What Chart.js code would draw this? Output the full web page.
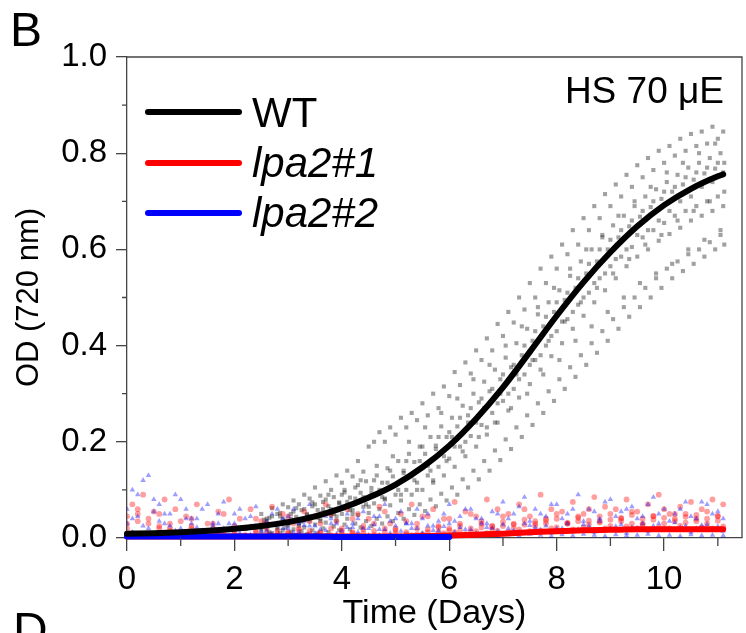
<!DOCTYPE html>
<html>
<head>
<meta charset="utf-8">
<script src="https://cdn.jsdelivr.net/npm/chart.js@4.4.1/dist/chart.umd.min.js"></script>
<style>
  body { margin: 0; background: #fff; }
  #wrap { position: relative; width: 746px; height: 633px; overflow: hidden; }
  #out { position: absolute; left: 0; top: 0; }
  .txt { position: absolute; font-family: "Liberation Sans", Arial, sans-serif; color: #000; line-height: 1; white-space: nowrap; }
  .panel { font-size: 48px; }
  .key { position: absolute; left: 145px; width: 97px; height: 6px; border-radius: 3px; }
</style>
</head>
<body>
<div id="wrap">
  <canvas id="out" width="746" height="633"></canvas>
  <div class="txt panel" style="left:10px;top:6px">B</div>
  <div class="txt panel" style="left:13px;top:606px">D</div>
  <div class="txt" style="right:22px;top:72px;font-size:37px">HS 70 μE</div>
  <div id="legend"></div>
</div>
<script>
// series names and colours
const seriesNames = ["WT", "lpa2#1", "lpa2#2"];
const seriesColors = ["#000000", "#ff0000", "#0000ff"];

// tick positions
const majorDays = [0, 2, 4, 6, 8, 10];
const minorDays = [1, 3, 5, 7, 9, 11];
const minorOD = [0.1, 0.3, 0.5, 0.7, 0.9];

// fitted growth curves
const fitDays = [0, 0.5, 1, 1.5, 2, 2.5, 3, 3.5, 4, 4.5, 5, 5.5, 6, 6.5, 7, 7.5, 8, 8.5, 9, 9.5, 10, 10.5, 11, 11.1];
const wtFit = [0.009, 0.01, 0.012, 0.015, 0.019, 0.025, 0.033, 0.045, 0.062, 0.084, 0.111, 0.147, 0.192, 0.248, 0.313, 0.387, 0.462, 0.532, 0.594, 0.648, 0.692, 0.726, 0.752, 0.756];
const lpa1Fit = [0.003, 0.003, 0.003, 0.003, 0.003, 0.003, 0.003, 0.003, 0.003, 0.003, 0.003, 0.004, 0.005, 0.007, 0.009, 0.012, 0.014, 0.016, 0.017, 0.018, 0.018, 0.018, 0.018, 0.018];
const lpa2FitDays = [0, 0.5, 1, 1.5, 2, 2.5, 3, 3.5, 4, 4.5, 5, 5.5, 6];
const lpa2Fit = [0.003, 0.003, 0.003, 0.003, 0.003, 0.003, 0.003, 0.003, 0.002, 0.002, 0.002, 0.002, 0.002];

// WT raw OD readings (6 cultures, two sampling schedules)
const wtDaysA = [2.5, 2.6, 2.7, 2.8, 2.9, 3.0, 3.1, 3.2, 3.3, 3.4,
  3.5, 3.6, 3.7, 3.8, 3.9, 4.0, 4.1, 4.2, 4.3, 4.4,
  4.5, 4.6, 4.7, 4.8, 4.9, 5.0, 5.1, 5.2, 5.3, 5.4,
  5.5, 5.6, 5.7, 5.8, 5.9, 6.0, 6.1, 6.2, 6.3, 6.4,
  6.5, 6.6, 6.7, 6.8, 6.9, 7.0, 7.1, 7.2, 7.3, 7.4,
  7.5, 7.6, 7.7, 7.8, 7.9, 8.0, 8.1, 8.2, 8.3, 8.4,
  8.5, 8.6, 8.7, 8.8, 8.9, 9.0, 9.1, 9.2, 9.3, 9.4,
  9.5, 9.6, 9.7, 9.8, 9.9, 10.0, 10.1, 10.2, 10.3, 10.4,
  10.5, 10.6, 10.7, 10.8, 10.9, 11.0, 11.1];
const wtDaysB = [2.55, 2.65, 2.75, 2.85, 2.95, 3.05, 3.15, 3.25, 3.35, 3.45,
  3.55, 3.65, 3.75, 3.85, 3.95, 4.05, 4.15, 4.25, 4.35, 4.45,
  4.55, 4.65, 4.75, 4.85, 4.95, 5.05, 5.15, 5.25, 5.35, 5.45,
  5.55, 5.65, 5.75, 5.85, 5.95, 6.05, 6.15, 6.25, 6.35, 6.45,
  6.55, 6.65, 6.75, 6.85, 6.95, 7.05, 7.15, 7.25, 7.35, 7.45,
  7.55, 7.65, 7.75, 7.85, 7.95, 8.05, 8.15, 8.25, 8.35, 8.45,
  8.55, 8.65, 8.75, 8.85, 8.95, 9.05, 9.15, 9.25, 9.35, 9.45,
  9.55, 9.65, 9.75, 9.85, 9.95, 10.05, 10.15, 10.25, 10.35, 10.45,
  10.55, 10.65, 10.75, 10.85, 10.95, 11.05, 11.12];
const wtRepA = [0.05, 0.04, 0.062, 0.05, 0.07, 0.064, 0.078, 0.07, 0.09, 0.082,
  0.105, 0.088, 0.118, 0.1, 0.13, 0.115, 0.14, 0.128, 0.16, 0.138,
  0.19, 0.2, 0.22, 0.2, 0.23, 0.215, 0.25, 0.23, 0.26, 0.245,
  0.28, 0.255, 0.3, 0.27, 0.315, 0.295, 0.345, 0.318, 0.365, 0.342,
  0.39, 0.37, 0.415, 0.39, 0.445, 0.42, 0.47, 0.448, 0.5, 0.475,
  0.53, 0.5, 0.56, 0.53, 0.585, 0.56, 0.61, 0.59, 0.64, 0.61,
  0.665, 0.64, 0.69, 0.665, 0.715, 0.69, 0.735, 0.71, 0.755, 0.73,
  0.775, 0.75, 0.79, 0.765, 0.805, 0.78, 0.815, 0.795, 0.83, 0.805,
  0.84, 0.815, 0.845, 0.82, 0.855, 0.83, 0.845];
const wtRepB = [0.03, 0.042, 0.028, 0.045, 0.036, 0.05, 0.044, 0.058, 0.05, 0.066,
  0.058, 0.075, 0.066, 0.085, 0.074, 0.095, 0.084, 0.105, 0.094, 0.118,
  0.104, 0.13, 0.115, 0.145, 0.128, 0.16, 0.14, 0.175, 0.158, 0.19,
  0.175, 0.21, 0.192, 0.232, 0.21, 0.25, 0.232, 0.275, 0.255, 0.3,
  0.282, 0.325, 0.305, 0.35, 0.33, 0.375, 0.355, 0.405, 0.38, 0.435,
  0.41, 0.465, 0.44, 0.49, 0.47, 0.515, 0.495, 0.545, 0.52, 0.575,
  0.55, 0.6, 0.575, 0.625, 0.6, 0.65, 0.625, 0.67, 0.648, 0.69,
  0.668, 0.71, 0.688, 0.725, 0.705, 0.74, 0.72, 0.755, 0.735, 0.77,
  0.745, 0.78, 0.758, 0.79, 0.768, 0.8, 0.78];
const wtRepC = [0.014, 0.02, 0.01, 0.022, 0.016, 0.026, 0.018, 0.03, 0.022, 0.036,
  0.028, 0.04, 0.032, 0.046, 0.036, 0.05, 0.04, 0.058, 0.048, 0.065,
  0.052, 0.072, 0.06, 0.082, 0.068, 0.09, 0.078, 0.1, 0.09, 0.115,
  0.1, 0.13, 0.115, 0.148, 0.13, 0.165, 0.148, 0.19, 0.17, 0.212,
  0.19, 0.235, 0.215, 0.26, 0.24, 0.285, 0.265, 0.31, 0.292, 0.34,
  0.32, 0.37, 0.35, 0.4, 0.378, 0.43, 0.405, 0.455, 0.435, 0.485,
  0.462, 0.51, 0.49, 0.54, 0.515, 0.565, 0.54, 0.585, 0.565, 0.605,
  0.585, 0.625, 0.6, 0.64, 0.618, 0.655, 0.632, 0.67, 0.645, 0.68,
  0.66, 0.69, 0.67, 0.7, 0.68, 0.71, 0.69];
const wtRepD = [0.004, 0.008, 0.003, 0.01, 0.005, 0.012, 0.006, 0.014, 0.008, 0.016,
  0.01, 0.02, 0.012, 0.024, 0.016, 0.028, 0.018, 0.03, 0.022, 0.035,
  0.025, 0.04, 0.03, 0.045, 0.035, 0.052, 0.04, 0.06, 0.048, 0.07,
  0.056, 0.08, 0.066, 0.092, 0.078, 0.105, 0.09, 0.122, 0.105, 0.14,
  0.122, 0.16, 0.14, 0.182, 0.162, 0.205, 0.185, 0.23, 0.21, 0.255,
  0.235, 0.28, 0.26, 0.305, 0.285, 0.33, 0.31, 0.355, 0.335, 0.38,
  0.36, 0.405, 0.385, 0.43, 0.41, 0.455, 0.435, 0.48, 0.46, 0.5,
  0.48, 0.52, 0.5, 0.54, 0.52, 0.56, 0.54, 0.575, 0.555, 0.59,
  0.57, 0.6, 0.585, 0.615, 0.6, 0.63, 0.61];
const wtRepE = [0.02, 0.035, 0.045, 0.018, 0.04, 0.03, 0.055, 0.025, 0.06, 0.045,
  0.07, 0.035, 0.08, 0.06, 0.045, 0.09, 0.075, 0.05, 0.11, 0.085,
  0.065, 0.12, 0.1, 0.08, 0.14, 0.11, 0.09, 0.16, 0.13, 0.1,
  0.19, 0.15, 0.12, 0.21, 0.17, 0.22, 0.19, 0.25, 0.2, 0.27,
  0.24, 0.29, 0.23, 0.31, 0.28, 0.34, 0.3, 0.36, 0.33, 0.4,
  0.36, 0.43, 0.38, 0.46, 0.42, 0.49, 0.45, 0.51, 0.47, 0.54,
  0.5, 0.57, 0.53, 0.6, 0.55, 0.62, 0.58, 0.64, 0.6, 0.66,
  0.63, 0.68, 0.64, 0.7, 0.66, 0.72, 0.68, 0.73, 0.7, 0.75,
  0.71, 0.76, 0.73, 0.77, 0.74, 0.78, 0.76];
const wtRepF = [0.038, 0.012, 0.028, 0.052, 0.022, 0.04, 0.062, 0.034, 0.048, 0.074,
  0.042, 0.06, 0.09, 0.05, 0.072, 0.1, 0.058, 0.082, 0.12, 0.07,
  0.095, 0.15, 0.085, 0.115, 0.17, 0.1, 0.135, 0.2, 0.12, 0.16,
  0.23, 0.14, 0.185, 0.26, 0.16, 0.21, 0.29, 0.18, 0.24, 0.33,
  0.21, 0.27, 0.36, 0.24, 0.3, 0.4, 0.27, 0.34, 0.44, 0.3,
  0.37, 0.48, 0.34, 0.41, 0.52, 0.37, 0.45, 0.56, 0.41, 0.49,
  0.6, 0.44, 0.52, 0.63, 0.47, 0.55, 0.67, 0.5, 0.58, 0.7,
  0.53, 0.61, 0.73, 0.55, 0.63, 0.76, 0.57, 0.66, 0.78, 0.6,
  0.68, 0.8, 0.62, 0.7, 0.82, 0.64, 0.72];

// mutant raw OD readings, two sampling schedules
const mutantDaysA = [0, 0.2, 0.4, 0.6, 0.8, 1.0, 1.2, 1.4, 1.6, 1.8,
  2.0, 2.2, 2.4, 2.6, 2.8, 3.0, 3.2, 3.4, 3.6, 3.8,
  4.0, 4.2, 4.4, 4.6, 4.8, 5.0, 5.2, 5.4, 5.6, 5.8,
  6.0, 6.2, 6.4, 6.6, 6.8, 7.0, 7.2, 7.4, 7.6, 7.8,
  8.0, 8.2, 8.4, 8.6, 8.8, 9.0, 9.2, 9.4, 9.6, 9.8,
  10.0, 10.2, 10.4, 10.6, 10.8, 11.0];
const mutantDaysB = [0.1, 0.3, 0.5, 0.7, 0.9, 1.1, 1.3, 1.5, 1.7, 1.9,
  2.1, 2.3, 2.5, 2.7, 2.9, 3.1, 3.3, 3.5, 3.7, 3.9,
  4.1, 4.3, 4.5, 4.7, 4.9, 5.1, 5.3, 5.5, 5.7, 5.9,
  6.1, 6.3, 6.5, 6.7, 6.9, 7.1, 7.3, 7.5, 7.7, 7.9,
  8.1, 8.3, 8.5, 8.7, 8.9, 9.1, 9.3, 9.5, 9.7, 9.9,
  10.1, 10.3, 10.5, 10.7, 10.9, 11.1];
const lpa1RepA = [0.045, 0.06, 0.03, 0.05, 0.02, 0.035, 0.04, 0.015, 0.03, 0.05,
  0.025, 0.02, 0.04, 0.03, 0.015, 0.045, 0.02, 0.035, 0.03, 0.05,
  0.02, 0.04, 0.025, 0.03, 0.055, 0.02, 0.035, 0.03, 0.045, 0.025,
  0.04, 0.03, 0.05, 0.035, 0.025, 0.045, 0.03, 0.06, 0.035, 0.04,
  0.05, 0.03, 0.045, 0.06, 0.035, 0.05, 0.04, 0.055, 0.03, 0.045,
  0.06, 0.04, 0.05, 0.035, 0.055, 0.045];
const lpa1RepB = [0.02, 0.035, 0.01, 0.025, 0.015, 0.01, 0.02, 0.008, 0.012, 0.018,
  0.01, 0.005, 0.015, 0.01, 0.008, 0.012, 0.006, 0.015, 0.01, 0.02,
  0.008, 0.012, 0.01, 0.015, 0.02, 0.01, 0.012, 0.008, 0.018, 0.012,
  0.02, 0.015, 0.012, 0.022, 0.018, 0.025, 0.02, 0.028, 0.025, 0.03,
  0.022, 0.03, 0.035, 0.028, 0.032, 0.025, 0.035, 0.03, 0.028, 0.038,
  0.03, 0.035, 0.032, 0.04, 0.03, 0.036];
const lpa1RepC = [0.01, 0.008, 0.004, 0.006, 0.003, 0.005, 0.004, 0.002, 0.006, 0.003,
  0.004, 0.002, 0.005, 0.003, 0.002, 0.004, 0.003, 0.002, 0.005, 0.004,
  0.003, 0.006, 0.002, 0.004, 0.005, 0.003, 0.006, 0.008, 0.005, 0.01,
  0.012, 0.008, 0.014, 0.01, 0.015, 0.012, 0.018, 0.014, 0.016, 0.02,
  0.015, 0.018, 0.022, 0.016, 0.02, 0.018, 0.024, 0.02, 0.018, 0.022,
  0.02, 0.025, 0.018, 0.022, 0.02, 0.024];
const lpa1RepD = [0.07, 0.09, 0.055, 0.08, 0.06, 0.045, 0.07, 0.03, 0.055, 0.08,
  0.04, 0.06, 0.035, 0.065, 0.05, 0.03, 0.055, 0.045, 0.07, 0.035,
  0.06, 0.05, 0.04, 0.065, 0.03, 0.05, 0.07, 0.045, 0.06, 0.04,
  0.075, 0.055, 0.045, 0.08, 0.06, 0.05, 0.07, 0.045, 0.09, 0.06,
  0.055, 0.075, 0.05, 0.085, 0.065, 0.06, 0.08, 0.055, 0.07, 0.09,
  0.05, 0.065, 0.075, 0.06, 0.08, 0.07];
const lpa1RepE = [0.03, 0.05, 0.04, 0.02, 0.03, 0.012, 0.025, 0.01, 0.02, 0.008,
  0.015, 0.006, 0.012, 0.02, 0.005, 0.01, 0.015, 0.008, 0.012, 0.006,
  0.015, 0.01, 0.018, 0.006, 0.012, 0.016, 0.008, 0.02, 0.012, 0.022,
  0.016, 0.025, 0.02, 0.03, 0.024, 0.034, 0.028, 0.038, 0.03, 0.036,
  0.04, 0.032, 0.042, 0.036, 0.045, 0.038, 0.042, 0.048, 0.04, 0.046,
  0.042, 0.05, 0.044, 0.048, 0.04, 0.046];
const lpa2RepA = [0.06, 0.09, 0.13, 0.07, 0.05, 0.08, 0.04, 0.06, 0.03, 0.075,
  0.05, 0.04, 0.065, 0.035, 0.06, 0.045, 0.03, 0.07, 0.05, 0.04,
  0.065, 0.03, 0.055, 0.045, 0.07, 0.04, 0.03, 0.06, 0.05, 0.035,
  0.07, 0.045, 0.06, 0.04, 0.055, 0.075, 0.05, 0.085, 0.06, 0.045,
  0.07, 0.05, 0.09, 0.06, 0.04, 0.08, 0.055, 0.065, 0.045, 0.085,
  0.06, 0.05, 0.075, 0.04, 0.07, 0.055];
const lpa2RepB = [0.03, 0.045, 0.02, 0.035, 0.025, 0.02, 0.03, 0.015, 0.025, 0.02,
  0.03, 0.018, 0.025, 0.015, 0.03, 0.02, 0.012, 0.025, 0.018, 0.03,
  0.015, 0.022, 0.02, 0.028, 0.018, 0.025, 0.03, 0.02, 0.025, 0.015,
  0.03, 0.022, 0.018, 0.03, 0.02, 0.028, 0.015, 0.03, 0.022, 0.025,
  0.02, 0.03, 0.018, 0.025, 0.035, 0.02, 0.028, 0.022, 0.03, 0.025,
  0.02, 0.032, 0.025, 0.02, 0.028, 0.024];
const lpa2RepC = [0.012, 0.008, 0.005, 0.01, 0.006, 0.004, 0.008, 0.003, 0.006, 0.005,
  0.004, 0.007, 0.003, 0.005, 0.006, 0.004, 0.002, 0.005, 0.004, 0.006,
  0.003, 0.005, 0.004, 0.006, 0.003, 0.005, 0.004, 0.007, 0.005, 0.006,
  0.004, 0.008, 0.005, 0.006, 0.004, 0.007, 0.005, 0.008, 0.006, 0.004,
  0.007, 0.005, 0.008, 0.006, 0.004, 0.007, 0.005, 0.006, 0.008, 0.005,
  0.006, 0.004, 0.007, 0.005, 0.006, 0.005];
const lpa2RepD = [0.1, 0.12, 0.08, 0.05, 0.09, 0.06, 0.04, 0.07, 0.05, 0.03,
  0.06, 0.045, 0.025, 0.05, 0.04, 0.06, 0.035, 0.025, 0.045, 0.03,
  0.05, 0.04, 0.02, 0.045, 0.035, 0.055, 0.03, 0.04, 0.025, 0.05,
  0.035, 0.06, 0.04, 0.03, 0.05, 0.04, 0.065, 0.035, 0.05, 0.07,
  0.04, 0.06, 0.035, 0.055, 0.075, 0.045, 0.06, 0.04, 0.07, 0.05,
  0.035, 0.06, 0.045, 0.075, 0.05, 0.04];
const lpa2RepE = [0.04, 0.025, 0.055, 0.03, 0.015, 0.04, 0.022, 0.012, 0.03, 0.016,
  0.01, 0.024, 0.014, 0.008, 0.02, 0.012, 0.026, 0.01, 0.016, 0.008,
  0.022, 0.012, 0.006, 0.018, 0.01, 0.014, 0.02, 0.01, 0.016, 0.024,
  0.012, 0.018, 0.01, 0.022, 0.014, 0.02, 0.012, 0.026, 0.016, 0.01,
  0.02, 0.014, 0.028, 0.012, 0.018, 0.024, 0.01, 0.02, 0.014, 0.03,
  0.016, 0.022, 0.012, 0.026, 0.018, 0.014];

const axisColor = "#444";
const fontFamily = "'Liberation Sans', Arial, sans-serif";

function pairs(xs, ys) {
    return ys.map((y, i) => ({ x: xs[i], y: y }));
}

function points(list) {
    const result = [];
    for (const [xs, ys] of list) {
        result.push(...pairs(xs, ys));
    }
    return result;
}

// legend, built from the series names
const legendBox = document.getElementById("legend");
seriesNames.forEach((name, i) => {
    const line = document.createElement("div");
    line.className = "key";
    line.style.top = (109 + i * 50.5) + "px";
    line.style.background = seriesColors[i];
    legendBox.appendChild(line);
    const label = document.createElement("div");
    label.className = "txt";
    label.style.left = "252px";
    label.style.top = (91.5 + i * 50) + "px";
    label.style.fontSize = "42px";
    if (i > 0) label.style.fontStyle = "italic";
    label.textContent = name;
    legendBox.appendChild(label);
});

const minorTicks = {
    id: "minorTicks",
    afterDraw(chart) {
        const { ctx, chartArea: area, scales: { x, y } } = chart;
        ctx.save();
        ctx.strokeStyle = axisColor;
        ctx.lineWidth = 1.3;
        ctx.beginPath();
        for (const d of minorDays) {
            const px = x.getPixelForValue(d);
            ctx.moveTo(px, area.bottom);
            ctx.lineTo(px, area.bottom + 8);
        }
        for (const v of minorOD) {
            const py = y.getPixelForValue(v);
            ctx.moveTo(area.left - 5, py);
            ctx.lineTo(area.left, py);
        }
        // top and right frame
        ctx.moveTo(area.left, area.top);
        ctx.lineTo(area.right, area.top);
        ctx.lineTo(area.right, area.bottom);
        ctx.stroke();
        ctx.restore();
    }
};

function fitSet(label, xs, ys, color, order) {
    return {
        label: label,
        data: pairs(xs, ys),
        showLine: true,
        borderColor: color,
        backgroundColor: color,
        borderWidth: 6,
        borderCapStyle: "round",
        pointRadius: 0,
        cubicInterpolationMode: "monotone",
        clip: false,
        order: order
    };
}

function dotSet(label, data, style, radius, color, order) {
    return {
        label: label,
        data: data,
        pointStyle: style,
        pointRadius: radius,
        pointBorderWidth: 0,
        backgroundColor: color,
        borderColor: color,
        borderWidth: 0,
        order: order
    };
}

const chartConfig = {
    type: "scatter",
    data: {
        datasets: [
            fitSet(seriesNames[0], fitDays, wtFit, seriesColors[0], 1),
            fitSet(seriesNames[2], lpa2FitDays, lpa2Fit, seriesColors[2], 2),
            fitSet(seriesNames[1], fitDays, lpa1Fit, seriesColors[1], 3),
            dotSet(seriesNames[2] + " data",
                points([[mutantDaysA, lpa2RepA], [mutantDaysA, lpa2RepB], [mutantDaysB, lpa2RepC],
                        [mutantDaysB, lpa2RepD], [mutantDaysB, lpa2RepE]]),
                "triangle", 3.2, "rgba(0, 0, 255, 0.38)", 4),
            dotSet(seriesNames[1] + " data",
                points([[mutantDaysA, lpa1RepA], [mutantDaysA, lpa1RepB], [mutantDaysB, lpa1RepC],
                        [mutantDaysB, lpa1RepD], [mutantDaysA, lpa1RepE]]),
                "circle", 2.9, "rgba(255, 0, 0, 0.38)", 5),
            dotSet(seriesNames[0] + " data",
                points([[wtDaysA, wtRepA], [wtDaysB, wtRepB], [wtDaysA, wtRepC],
                        [wtDaysB, wtRepD], [wtDaysA, wtRepE], [wtDaysB, wtRepF]]),
                "rect", 2.9, "rgba(30, 30, 30, 0.42)", 6)
        ]
    },
    options: {
        responsive: false,
        animation: false,
        devicePixelRatio: 1,
        events: [],
        layout: { padding: { top: 57, right: 2, bottom: 0, left: 0 } },
        plugins: { legend: { display: false }, tooltip: { enabled: false } },
        scales: {
            x: {
                type: "linear",
                min: 0,
                max: 11.45,
                afterFit: s => { s.height = 95; },
                afterBuildTicks: s => { s.ticks = majorDays.map(v => ({ value: v })); },
                border: { color: axisColor, width: 1.3 },
                grid: { drawOnChartArea: false, tickLength: 13, color: axisColor, lineWidth: 1.3 },
                ticks: { color: "#000", padding: 9, font: { family: fontFamily, size: 33 }, maxRotation: 0 },
                title: {
                    display: true, text: "Time (Days)", color: "#000",
                    font: { family: fontFamily, size: 34, lineHeight: 1 },
                    padding: { top: 0, bottom: 2 }
                }
            },
            y: {
                min: 0,
                max: 1,
                afterFit: s => { s.width = 127; },
                border: { color: axisColor, width: 1.3 },
                grid: { drawOnChartArea: false, tickLength: 11, color: axisColor, lineWidth: 1.3 },
                ticks: {
                    stepSize: 0.2, color: "#000", padding: 9,
                    font: { family: fontFamily, size: 33 },
                    callback: v => v.toFixed(1)
                },
                title: {
                    display: true, text: "OD (720 nm)", color: "#000",
                    font: { family: fontFamily, size: 31, lineHeight: 1 },
                    padding: { top: 14, bottom: 0 }
                }
            }
        }
    },
    plugins: [minorTicks]
};

const canvasCtx = document.getElementById("out").getContext("2d");
window.chart = new Chart(canvasCtx, chartConfig);
</script>
</body>
</html>
